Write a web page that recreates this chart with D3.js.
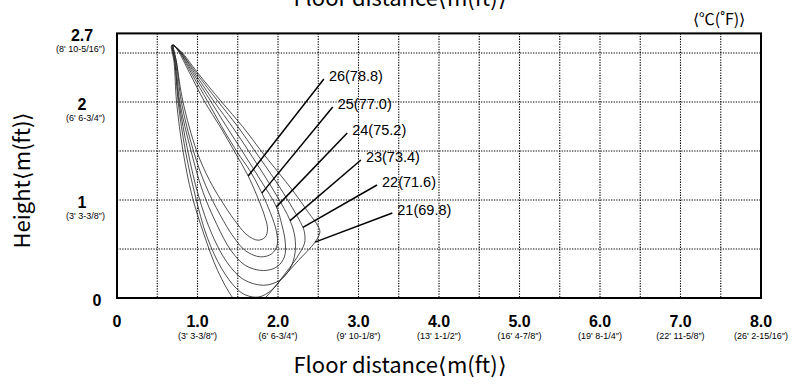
<!DOCTYPE html>
<html>
<head>
<meta charset="utf-8">
<script src="https://cdn.jsdelivr.net/npm/d3@7"></script>
<style>
  html, body { margin: 0; padding: 0; background: #fff; }
  svg { display: block; }
</style>
</head>
<body>
<svg id="chart" width="801" height="384"></svg>
<script>
// Axis ticks and their imperial equivalents
const xTicks = [0, 1, 2, 3, 4, 5, 6, 7, 8];
const xTickLabels = ["0", "1.0", "2.0", "3.0", "4.0", "5.0", "6.0", "7.0", "8.0"];
const xTickSub = ["", "(3' 3-3/8″)", "(6' 6-3/4″)", "(9' 10-1/8″)", "(13' 1-1/2″)",
                  "(16' 4-7/8″)", "(19' 8-1/4″)", "(22' 11-5/8″)", "(26' 2-15/16″)"];
const yTicks = [0, 1, 2, 2.7];
const yTickLabels = ["0", "1", "2", "2.7"];
const yTickSub = ["", "(3' 3-3/8″)", "(6' 6-3/4″)", "(8' 10-5/16″)"];

// Isotherm temperatures
const tempsC = [26, 25, 24, 23, 22, 21];
const tempsF = [78.8, 77.0, 75.2, 73.4, 71.6, 69.8];

// Isotherm outlines [floor distance m, height m]
const iso26 = [[0.70,2.58],[0.74,2.40],[0.82,2.00],[0.99,1.50],[1.15,1.20],[1.33,0.95],[1.50,0.75],[1.62,0.64],[1.75,0.59],[1.84,0.62],[1.87,0.70],[1.84,0.82],[1.75,1.02],[1.63,1.245],[1.47,1.48],[1.28,1.75],[1.09,2.00],[0.90,2.30],[0.76,2.52]];
const iso25 = [[0.70,2.58],[0.74,2.40],[0.80,2.00],[0.95,1.50],[1.10,1.15],[1.28,0.85],[1.45,0.62],[1.60,0.48],[1.78,0.42],[1.92,0.45],[1.99,0.54],[1.98,0.68],[1.91,0.86],[1.80,1.07],[1.65,1.30],[1.50,1.48],[1.30,1.75],[1.13,2.00],[0.92,2.30],[0.77,2.52]];
const iso24 = [[0.69,2.58],[0.73,2.40],[0.78,2.00],[0.92,1.50],[1.06,1.10],[1.24,0.75],[1.42,0.48],[1.60,0.33],[1.82,0.28],[1.99,0.32],[2.08,0.42],[2.09,0.57],[2.05,0.74],[1.98,0.93],[1.80,1.18],[1.57,1.48],[1.36,1.75],[1.17,2.00],[0.94,2.30],[0.77,2.52]];
const iso23 = [[0.69,2.58],[0.72,2.40],[0.77,2.00],[0.88,1.50],[1.01,1.05],[1.18,0.65],[1.37,0.36],[1.57,0.19],[1.82,0.13],[2.02,0.18],[2.15,0.30],[2.21,0.45],[2.21,0.62],[2.15,0.79],[1.98,1.05],[1.65,1.48],[1.43,1.75],[1.21,2.00],[0.96,2.30],[0.78,2.52]];
const iso22 = [[0.69,2.58],[0.72,2.40],[0.76,2.00],[0.85,1.50],[0.97,1.05],[1.12,0.62],[1.30,0.30],[1.48,0.10],[1.60,0.03],[1.76,0.01],[1.92,0.08],[2.08,0.24],[2.24,0.42],[2.33,0.56],[2.33,0.66],[2.31,0.72],[2.15,0.96],[1.95,1.22],[1.73,1.48],[1.50,1.75],[1.26,2.00],[0.98,2.30],[0.78,2.52]];
const iso21 = [[0.68,2.58],[0.71,2.40],[0.74,2.00],[0.82,1.50],[0.93,1.05],[1.08,0.65],[1.25,0.28],[1.44,0.00],[1.56,-0.10],[1.70,-0.10],[1.84,0.00],[2.04,0.19],[2.25,0.38],[2.46,0.57],[2.52,0.67],[2.50,0.73],[2.38,0.87],[2.18,1.10],[1.81,1.48],[1.56,1.75],[1.30,2.00],[1.00,2.30],[0.79,2.52]];
const isotherms = [iso26, iso25, iso24, iso23, iso22, iso21];

// Leader lines: point on the isotherm -> label anchor (m)
const leaderFrom = [[1.63,1.245],[1.80,1.07],[1.98,0.93],[2.15,0.79],[2.31,0.72],[2.46,0.57]];
const leaderTo = [[2.57,2.235],[2.68,1.949],[2.86,1.684],[3.03,1.408],[3.23,1.153],[3.42,0.867]];

const svg = d3.select("#chart");
const plot = { left: 117, right: 761, top: 33.4, bottom: 298 };

const x = d3.scaleLinear().domain([0, 8]).range([plot.left, plot.right]);
const y = d3.scaleLinear().domain([0, 2.7]).range([plot.bottom, plot.top]);

const titleFont = "'Noto Sans CJK JP', 'Noto Sans', sans-serif";
const labelFont = "'Liberation Sans', Arial, sans-serif";

// Clip region for the isotherms
svg.append("defs").append("clipPath").attr("id", "plotClip")
  .append("rect")
  .attr("x", plot.left).attr("y", plot.top)
  .attr("width", plot.right - plot.left).attr("height", plot.bottom - plot.top);

// Dotted grid
const grid = svg.append("g").attr("stroke", "#000").attr("stroke-width", 1.1)
  .attr("stroke-dasharray", "1.3,1.3");
grid.selectAll("line.v").data(d3.range(0.5, 8, 0.5)).join("line")
  .attr("x1", d => x(d)).attr("x2", d => x(d))
  .attr("y1", plot.top).attr("y2", plot.bottom);
grid.selectAll("line.h").data(d3.range(0.5, 2.7, 0.5)).join("line")
  .attr("x1", plot.left).attr("x2", plot.right)
  .attr("y1", d => y(d)).attr("y2", d => y(d));

// Isotherms
const line = d3.line().x(d => x(d[0])).y(d => y(d[1]))
  .curve(d3.curveCatmullRomClosed.alpha(0.5));
svg.append("g").attr("clip-path", "url(#plotClip)")
  .selectAll("path").data(isotherms).join("path")
  .attr("d", line)
  .attr("fill", "none")
  .attr("stroke", "#222")
  .attr("stroke-width", 0.8);

// Frame
svg.append("rect")
  .attr("x", plot.left).attr("y", plot.top)
  .attr("width", plot.right - plot.left).attr("height", plot.bottom - plot.top)
  .attr("fill", "none").attr("stroke", "#000").attr("stroke-width", 2);

// Leader lines and labels
const lab = svg.append("g");
lab.selectAll("line").data(tempsC).join("line")
  .attr("x1", (d, i) => x(leaderFrom[i][0])).attr("y1", (d, i) => y(leaderFrom[i][1]))
  .attr("x2", (d, i) => x(leaderTo[i][0])).attr("y2", (d, i) => y(leaderTo[i][1]))
  .attr("stroke", "#000").attr("stroke-width", 1.5);
lab.selectAll("text").data(tempsC).join("text")
  .attr("x", (d, i) => x(leaderTo[i][0]) + 5)
  .attr("y", (d, i) => y(leaderTo[i][1]) - 3)
  .attr("dominant-baseline", "central")
  .attr("font-family", labelFont).attr("font-size", 14.5)
  .text((d, i) => `${d}(${tempsF[i].toFixed(1)})`);

// X tick labels
const xl = svg.append("g").attr("text-anchor", "middle").attr("font-family", labelFont);
xl.selectAll("text.main").data(xTicks).join("text").attr("class", "main")
  .attr("x", d => x(d)).attr("y", 327)
  .attr("font-size", 16).attr("font-weight", "bold")
  .text((d, i) => xTickLabels[i]);
xl.selectAll("text.sub").data(xTicks).join("text").attr("class", "sub")
  .attr("x", d => x(d)).attr("y", 339)
  .attr("font-size", 9)
  .text((d, i) => xTickSub[i]);

// Y tick labels
const yl = svg.append("g").attr("font-family", labelFont);
yl.selectAll("text.main").data(yTicks).join("text").attr("class", "main")
  .attr("x", d => d === 0 ? 97 : 82).attr("y", d => y(d) + 2.5)
  .attr("text-anchor", "middle").attr("dominant-baseline", "central")
  .attr("font-size", 16).attr("font-weight", "bold")
  .text((d, i) => yTickLabels[i]);
yl.selectAll("text.sub").data(yTicks).join("text").attr("class", "sub")
  .attr("x", 105).attr("y", d => y(d) + 15.5)
  .attr("text-anchor", "end").attr("dominant-baseline", "central")
  .attr("font-size", 9)
  .text((d, i) => yTickSub[i]);

// Axis titles
svg.append("text")
  .attr("x", 400).attr("y", 6)
  .attr("text-anchor", "middle").attr("font-family", titleFont).attr("font-size", 22)
  .text("Floor distance⟨m(ft)⟩");
svg.append("text")
  .attr("x", 400).attr("y", 373)
  .attr("text-anchor", "middle").attr("font-family", titleFont).attr("font-size", 22)
  .text("Floor distance⟨m(ft)⟩");
svg.append("text")
  .attr("transform", "translate(30,180) rotate(-90)")
  .attr("text-anchor", "middle").attr("font-family", titleFont).attr("font-size", 22)
  .text("Height⟨m(ft)⟩");

// Unit note
svg.append("text")
  .attr("x", 719).attr("y", 18)
  .attr("text-anchor", "middle").attr("dominant-baseline", "central")
  .attr("font-family", titleFont).attr("font-size", 16)
  .text("⟨℃(˚F)⟩");
</script>
</body>
</html>
